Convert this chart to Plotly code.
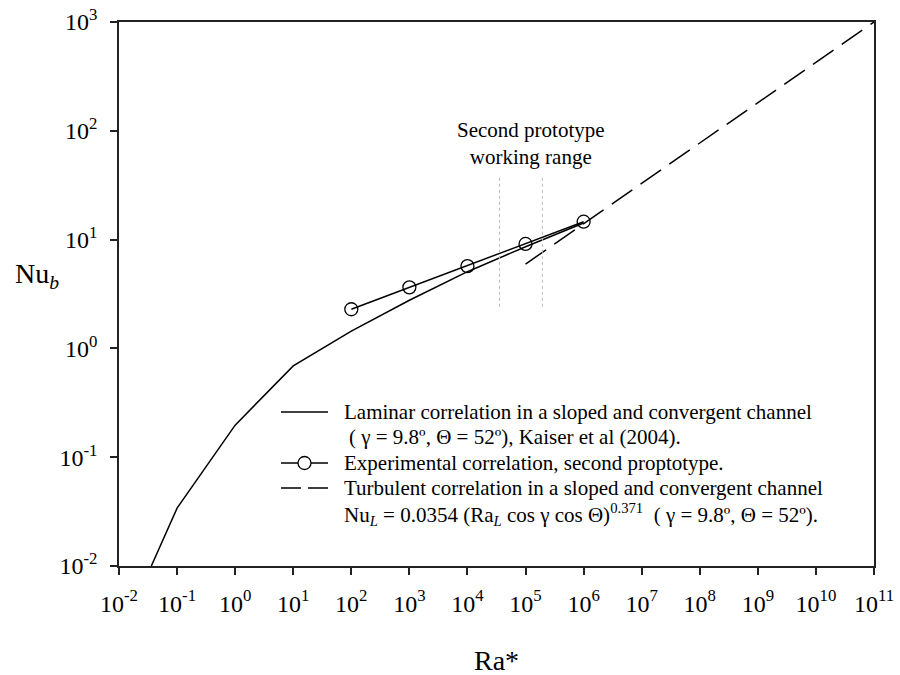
import plotly.graph_objects as go

# Data
lam_ra = [0.036, 0.1, 1, 10, 100, 1e3, 1e4, 1e5, 1e6]
lam_nu = [0.01, 0.034, 0.197, 0.69, 1.44, 2.77, 5.07, 8.6, 14.2]

exp_ra = [1e2, 1e3, 1e4, 1e5, 1e6]
exp_nu = [2.29, 3.64, 5.71, 9.12, 14.6]

turb_ra = [1e5, 1e11]
turb_nu = [5.96, 1000]

range_ra = [3.56e4, 1.95e5]
range_nu = [2.41, 39.3]

xtick_exp = list(range(-2, 12))
ytick_exp = list(range(-2, 4))

legend_lines = [
    "Laminar correlation in a sloped and convergent channel",
    "( γ = 9.8º, Θ = 52º), Kaiser et al (2004).",
    "Experimental correlation, second proptotype.",
    "Turbulent correlation in a sloped and convergent channel",
    "Nu<sub><i>L</i></sub> = 0.0354 (Ra<sub><i>L</i></sub> cos γ cos Θ)<sup>0.371</sup>  ( γ = 9.8º, Θ = 52º).",
]

FONT = "Liberation Serif"
L, R, T, B = 119, 26, 22, 109
W, H = 900, 675
PW, PH = W - L - R, H - T - B


def px(xp):
    return (xp - L) / PW


def py(yp):
    return (H - B - yp) / PH


fig = go.Figure()
fig.add_trace(go.Scatter(
    x=lam_ra, y=lam_nu, mode="lines",
    line=dict(color="black", width=1.5), name="laminar",
))
fig.add_trace(go.Scatter(
    x=exp_ra, y=exp_nu, mode="lines+markers",
    line=dict(color="black", width=1.5),
    marker=dict(symbol="circle-open", size=13, color="black", line=dict(width=1.3)),
    name="experimental",
))
fig.add_trace(go.Scatter(
    x=turb_ra, y=turb_nu, mode="lines",
    line=dict(color="black", width=1.5, dash="25px,10px"), name="turbulent",
))
for r in range_ra:
    fig.add_trace(go.Scatter(
        x=[r, r], y=range_nu, mode="lines",
        line=dict(color="#bbbbbb", width=1, dash="dot"),
        showlegend=False, hoverinfo="skip",
    ))

fig.add_annotation(
    x=5.1, y=1.884, xref="x", yref="y",
    text="Second prototype<br>working range", showarrow=False,
    font=dict(family=FONT, size=21, color="black"), align="center",
)

# Manual legend
row_y = [412, 437, 463, 488, 514]
row_x = [342, 347, 342, 342, 342]
for txt, yy, xx in zip(legend_lines, row_y, row_x):
    fig.add_annotation(
        x=px(xx), y=py(yy), xref="paper", yref="paper", text=txt, showarrow=False,
        xanchor="left", yanchor="middle", align="left",
        font=dict(family=FONT, size=21, color="black"),
    )
fig.add_shape(type="line", xref="paper", yref="paper",
              x0=px(281), x1=px(328), y0=py(412), y1=py(412),
              line=dict(color="black", width=1.5))
fig.add_shape(type="line", xref="paper", yref="paper",
              x0=px(281), x1=px(328), y0=py(463), y1=py(463),
              line=dict(color="black", width=1.5))
fig.add_shape(type="circle", xref="paper", yref="paper",
              xsizemode="pixel", ysizemode="pixel",
              xanchor=px(304.5), yanchor=py(463),
              x0=-6.5, x1=6.5, y0=-6.5, y1=6.5,
              fillcolor="white", line=dict(color="black", width=1.3))
fig.add_shape(type="line", xref="paper", yref="paper",
              x0=px(281), x1=px(328), y0=py(488), y1=py(488),
              line=dict(color="black", width=1.5, dash="20px,7px"))

fig.add_annotation(
    x=0.5, y=py(660), xref="paper", yref="paper", text="Ra*", showarrow=False,
    font=dict(family=FONT, size=28, color="black"), xanchor="center", yanchor="middle",
)
fig.add_annotation(
    x=px(13), y=py(275), xref="paper", yref="paper", text="Nu<sub><i>b</i></sub>", showarrow=False,
    font=dict(family=FONT, size=28, color="black"), xanchor="left", yanchor="middle",
)

axis_common = dict(
    type="log",
    ticks="outside", ticklen=7, tickwidth=1.5, tickcolor="#222",
    showline=True, linecolor="#222", linewidth=1.5, mirror=True,
    showgrid=False, zeroline=False, automargin=False,
    tickfont=dict(family=FONT, size=24, color="black"),
)
fig.update_xaxes(
    range=[-2, 11],
    tickvals=[10 ** e for e in xtick_exp],
    ticktext=[f"10<sup>{e}</sup>" for e in xtick_exp],
    ticklabelstandoff=8,
    **axis_common,
)
fig.update_yaxes(
    range=[-2, 3],
    tickvals=[10 ** e for e in ytick_exp],
    ticktext=[f"10<sup>{e}</sup>" for e in ytick_exp],
    ticklabelstandoff=8,
    **axis_common,
)

fig.update_layout(
    width=W, height=H,
    margin=dict(l=L, r=R, t=T, b=B),
    paper_bgcolor="white", plot_bgcolor="white",
    showlegend=False,
)

fig.write_html("out.html")
